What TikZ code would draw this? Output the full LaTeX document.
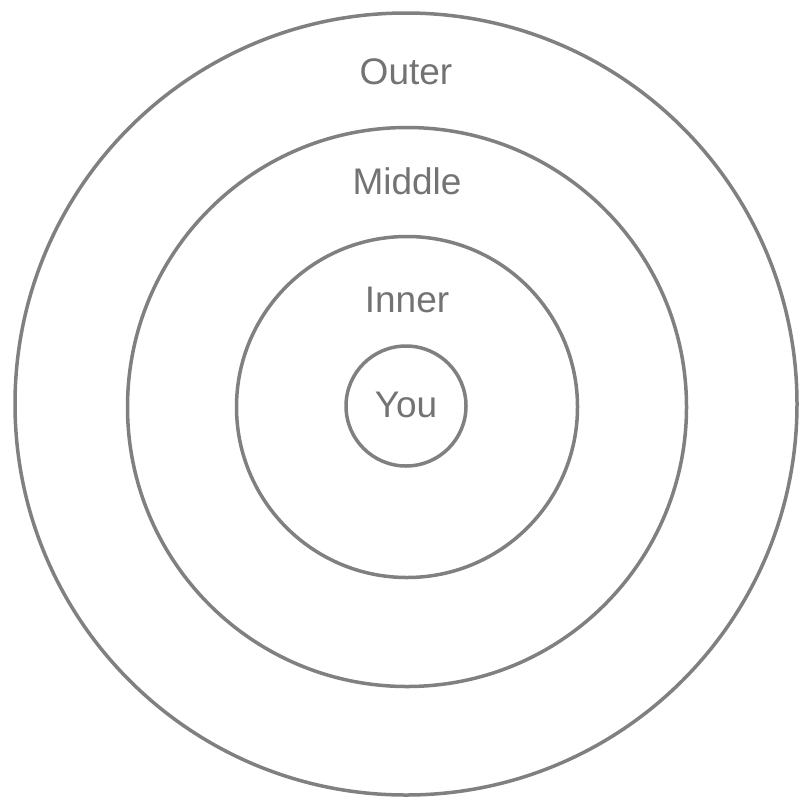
\documentclass[tikz,border=0pt]{standalone}
\usepackage{fontspec}
\setmainfont{Liberation Sans}
\begin{document}
\begin{tikzpicture}[x=1pt,y=-1pt,
  ring/.style={circle,draw=black!50,line width=3.5pt,inner sep=0pt},
  lbl/.style={text=black!55,font=\fontsize{37}{40}\selectfont,inner sep=0pt}]
\useasboundingbox (0,0) rectangle (802,801);
\node[ring,minimum size=782] (outer) at (406,404) {};
\node[ring,minimum size=559] (middle) at (407,407) {};
\node[ring,minimum size=341] (inner) at (407,407) {};
\node[ring,minimum size=120] (you) at (406,406) {};
\node[lbl] (tout) at (406,72) {Outer};
\node[lbl] (tmid) at (407,181) {Middle};
\node[lbl] (tin) at (407,300) {Inner};
\node[lbl] (tyou) at (406,405) {You};
\end{tikzpicture}
\end{document}
